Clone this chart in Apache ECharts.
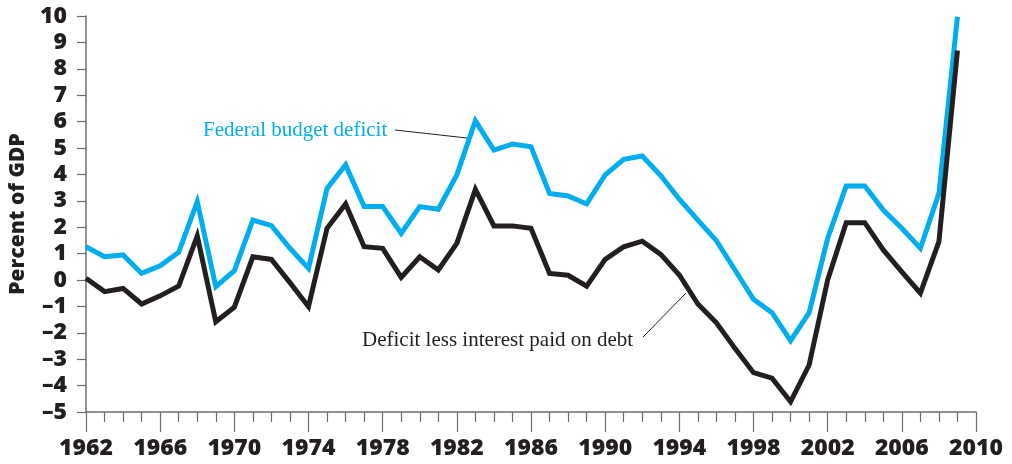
<!DOCTYPE html>
<html>
<head>
<meta charset="utf-8">
<script src="https://cdn.jsdelivr.net/npm/echarts@6/dist/echarts.min.js"></script>
<style>
html,body{margin:0;padding:0;background:#fff;}
#chart{width:1012px;height:464px;}
</style>
</head>
<body>
<div id="chart"></div>
<script>
const years = [1962,1963,1964,1965,1966,1967,1968,1969,1970,1971,1972,1973,1974,1975,1976,1977,1978,1979,1980,1981,1982,1983,1984,1985,1986,1987,1988,1989,1990,1991,1992,1993,1994,1995,1996,1997,1998,1999,2000,2001,2002,2003,2004,2005,2006,2007,2008,2009];
const federalDeficit = [1.26,0.88,0.95,0.25,0.54,1.05,2.97,-0.25,0.35,2.27,2.06,1.2,0.44,3.47,4.36,2.78,2.78,1.77,2.78,2.68,3.98,6.03,4.92,5.15,5.05,3.28,3.18,2.88,3.98,4.57,4.7,3.95,3.06,2.27,1.49,0.38,-0.73,-1.24,-2.3,-1.24,1.58,3.56,3.56,2.65,1.96,1.2,3.28,9.97];
const deficitLessInterest = [0.07,-0.44,-0.32,-0.91,-0.6,-0.23,1.67,-1.58,-1.03,0.88,0.78,-0.1,-1.01,1.96,2.88,1.26,1.2,0.1,0.88,0.38,1.39,3.43,2.05,2.05,1.96,0.25,0.18,-0.23,0.78,1.26,1.47,0.97,0.19,-0.91,-1.62,-2.59,-3.51,-3.72,-4.61,-3.22,0.0,2.17,2.17,1.14,0.31,-0.5,1.45,8.69];
const yAxisTitle = 'Percent of GDP';
const label1 = 'Federal budget deficit';
const label2 = 'Deficit less interest paid on debt';

const numFont = '"Open Sans", "DejaVu Sans", sans-serif';
const chart = echarts.init(document.getElementById('chart'), null, {renderer:'canvas'});
chart.setOption({
  animation:false,
  backgroundColor:'#fff',
  grid:{left:86,right:36,top:16,bottom:52,containLabel:false},
  xAxis:{
    type:'value',min:1962,max:2010,interval:4,
    axisLine:{show:true,onZero:false,lineStyle:{color:'#6d6e71',width:1.5}},
    axisTick:{show:true,length:20,lineStyle:{color:'#6d6e71',width:1.2}},
    minorTick:{show:true,splitNumber:4,length:10,lineStyle:{color:'#6d6e71',width:1.2}},
    splitLine:{show:false},
    axisLabel:{margin:25,fontFamily:numFont,fontWeight:800,fontSize:23,color:'#231f20',formatter:v=>String(v)}
  },
  yAxis:{
    type:'value',min:-5,max:10,interval:1,
    name:yAxisTitle,nameLocation:'middle',nameGap:57,
    nameTextStyle:{fontFamily:numFont,fontWeight:800,fontSize:21,color:'#231f20'},
    axisLine:{show:true,onZero:false,lineStyle:{color:'#6d6e71',width:1.5}},
    axisTick:{show:true,length:9,lineStyle:{color:'#6d6e71',width:1.2}},
    splitLine:{show:false},
    axisLabel:{margin:19,fontFamily:numFont,fontWeight:800,fontSize:23,color:'#231f20',
      formatter:v=>String(v).replace('-','\u2013')}
  },
  series:[
    {name:label1,type:'line',data:years.map((y,i)=>[y,federalDeficit[i]]),
     showSymbol:false,symbol:'none',lineStyle:{color:'#00aeef',width:5,join:'miter'},z:3},
    {name:label2,type:'line',data:years.map((y,i)=>[y,deficitLessInterest[i]]),
     showSymbol:false,symbol:'none',lineStyle:{color:'#231f20',width:5,join:'miter'},z:4}
  ],
  graphic:[
    {type:'text',left:203,top:120,style:{text:label1,fill:'#00aeef',font:'21px "Liberation Serif", serif'}},
    {type:'line',shape:{x1:395,y1:130,x2:467,y2:138},style:{stroke:'#231f20',lineWidth:1}},
    {type:'text',left:362,top:330,style:{text:label2,fill:'#231f20',font:'21px "Liberation Serif", serif'}},
    {type:'line',shape:{x1:643,y1:337,x2:686,y2:293},style:{stroke:'#231f20',lineWidth:1}}
  ]
});
</script>
</body>
</html>
